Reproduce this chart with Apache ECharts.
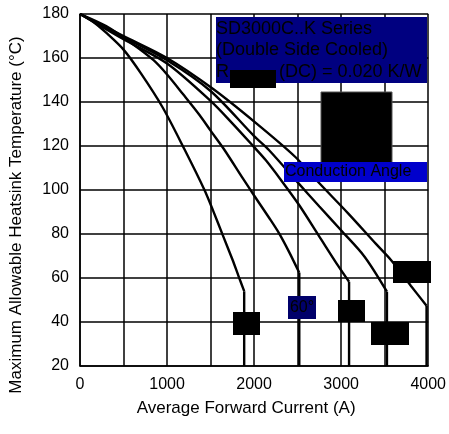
<!DOCTYPE html>
<html>
<head>
<meta charset="utf-8">
<style>
  html, body { margin: 0; padding: 0; background: #fff; }
  #chart { width: 449px; height: 434px; }
</style>
<script src="https://cdn.jsdelivr.net/npm/echarts@6/dist/echarts.min.js"></script>
</head>
<body>
<div id="chart"></div>
<script>
// Heatsink temperature derating, one curve per conduction angle:
// [average forward current (A), max heatsink temperature (°C)].
// The last point of each curve is the foot of its current-limit drop.
const angleNames = ['30°', '60°', '90°', '120°', '180°'];

const curve30 = [[0, 180], [150, 176.5], [300, 171.5], [500, 163.8], [700, 153], [950, 137.5],
  [1200, 118.5], [1430, 100], [1530, 90.5], [1640, 79.5], [1750, 68.5], [1820, 61], [1886, 54], [1886, 20]];

const curve60 = [[0, 180], [300, 174.5], [600, 166.5], [845, 159], [1000, 152.5], [1185, 143.5],
  [1375, 134], [1500, 127], [1660, 118.2], [1867, 105.5], [2000, 97.5], [2170, 87.5],
  [2284, 80.5], [2400, 72], [2519, 62.4], [2519, 20]];

const curve90 = [[0, 180], [500, 168.5], [1000, 157.5], [1500, 140.5], [1750, 130.3], [2000, 119.5],
  [2133, 113.6], [2300, 105], [2511, 93.5], [2739, 79.5], [2966, 65.5], [3091, 58.3], [3091, 20]];

const curve120 = [[0, 180], [500, 169.5], [1000, 159], [1500, 145], [2000, 124.5], [2170, 118.2],
  [2511, 103], [2750, 92.5], [3004, 81.5], [3269, 69.7], [3526, 53.8], [3526, 20]];

const curve180 = [[0, 180], [500, 170], [1000, 160], [1526, 146], [2019, 130.5], [2474, 115],
  [2739, 103.5], [3080, 89.4], [3400, 75.5], [3572, 68.2], [3800, 56.5], [3981, 47.4], [3981, 20]];

const curves = [curve30, curve60, curve90, curve120, curve180];

const xTicks = [0, 1000, 2000, 3000, 4000];
const titleLines = ['SD3000C..K Series', '(Double Side Cooled)', 'R          (DC) = 0.020 K/W'];

const FONT = 'Liberation Sans, Arial, sans-serif';

const chart = echarts.init(document.getElementById('chart'), null, { renderer: 'canvas' });

// small boxed tag with its text centred inside
function tag(x, y, w, h, fill, text) {
  return [
    { type: 'rect', shape: { x: x, y: y, width: w, height: h }, style: { fill: fill }, z: 10 },
    { type: 'text', x: x + w / 2, y: y + h / 2, z: 11,
      style: { text: text, fill: '#000', font: '16px ' + FONT, align: 'center', verticalAlign: 'middle' } }
  ];
}

const graphics = [
  { type: 'rect', shape: { x: 216, y: 17, width: 211, height: 66 }, style: { fill: '#000080' }, z: 10 },
  { type: 'text', x: 216, y: 29, z: 11, style: { text: titleLines[0], fill: '#000', font: '18px ' + FONT, verticalAlign: 'middle' } },
  { type: 'text', x: 216, y: 50.5, z: 11, style: { text: titleLines[1], fill: '#000', font: '18px ' + FONT, verticalAlign: 'middle' } },
  { type: 'text', x: 216, y: 72, z: 11, style: { text: titleLines[2], fill: '#000', font: '18px ' + FONT, verticalAlign: 'middle' } },
  { type: 'rect', shape: { x: 230, y: 70, width: 46, height: 18 }, style: { fill: '#000' }, z: 12 },
  { type: 'rect', shape: { x: 321, y: 92, width: 71, height: 71 }, style: { fill: '#000', stroke: '#555', lineWidth: 1 }, z: 10 },
  { type: 'rect', shape: { x: 284, y: 162, width: 143, height: 20 }, style: { fill: '#0000cc' }, z: 10 },
  { type: 'text', x: 285, y: 172, z: 11, style: { text: 'Conduction Angle', fill: '#000', font: '16px ' + FONT, verticalAlign: 'middle' } }
]
  .concat(tag(233, 312, 27, 23, '#000', angleNames[0]))
  .concat(tag(288, 296, 28, 23, '#00006a', angleNames[1]))
  .concat(tag(338, 300, 27, 22, '#000', angleNames[2]))
  .concat(tag(371, 322, 38, 23, '#000', angleNames[3]))
  .concat(tag(393, 261, 38, 22, '#000', angleNames[4]));

const lineStyle = { color: '#000', width: 2.4 };
const series = [];
curves.forEach((c, i) => {
  // smooth derating part
  series.push({
    name: angleNames[i], type: 'line', data: c.slice(0, -1),
    symbol: 'none', smooth: 0.3, lineStyle: lineStyle, z: 5
  });
  // vertical current limit
  series.push({
    name: angleNames[i] + ' limit', type: 'line', data: c.slice(-2),
    symbol: 'none', lineStyle: lineStyle, z: 5
  });
});

chart.setOption({
  animation: false,
  backgroundColor: '#fff',
  grid: { left: 79, right: 18, top: 14, bottom: 68, containLabel: false },
  xAxis: {
    type: 'value', min: 0, max: 4000, interval: 500,
    name: 'Average Forward Current (A)', nameLocation: 'middle', nameGap: 34,
    nameTextStyle: { color: '#000', fontSize: 17, fontFamily: FONT, padding: [0, 16, 0, 0] },
    axisLine: { show: true, lineStyle: { color: '#000', width: 1.5 } },
    axisTick: { show: false },
    axisLabel: {
      color: '#000', fontSize: 16, fontFamily: FONT, margin: 11,
      formatter: v => (xTicks.indexOf(v) >= 0 ? String(v) : '')
    },
    splitLine: { show: true, lineStyle: { color: '#000', width: 1.5 } }
  },
  yAxis: {
    type: 'value', min: 20, max: 180, interval: 20,
    name: 'Maximum Allowable Heatsink Temperature (°C)', nameLocation: 'middle', nameGap: 55,
    nameRotate: 90,
    nameTextStyle: { color: '#000', fontSize: 17, fontFamily: FONT, padding: [0, 50, 0, 0] },
    axisLine: { show: true, lineStyle: { color: '#000', width: 1.5 } },
    axisTick: { show: false },
    axisLabel: { color: '#000', fontSize: 16, fontFamily: FONT, margin: 11 },
    splitLine: { show: true, lineStyle: { color: '#000', width: 1.5 } }
  },
  series: series,
  graphic: graphics
});
</script>
</body>
</html>
